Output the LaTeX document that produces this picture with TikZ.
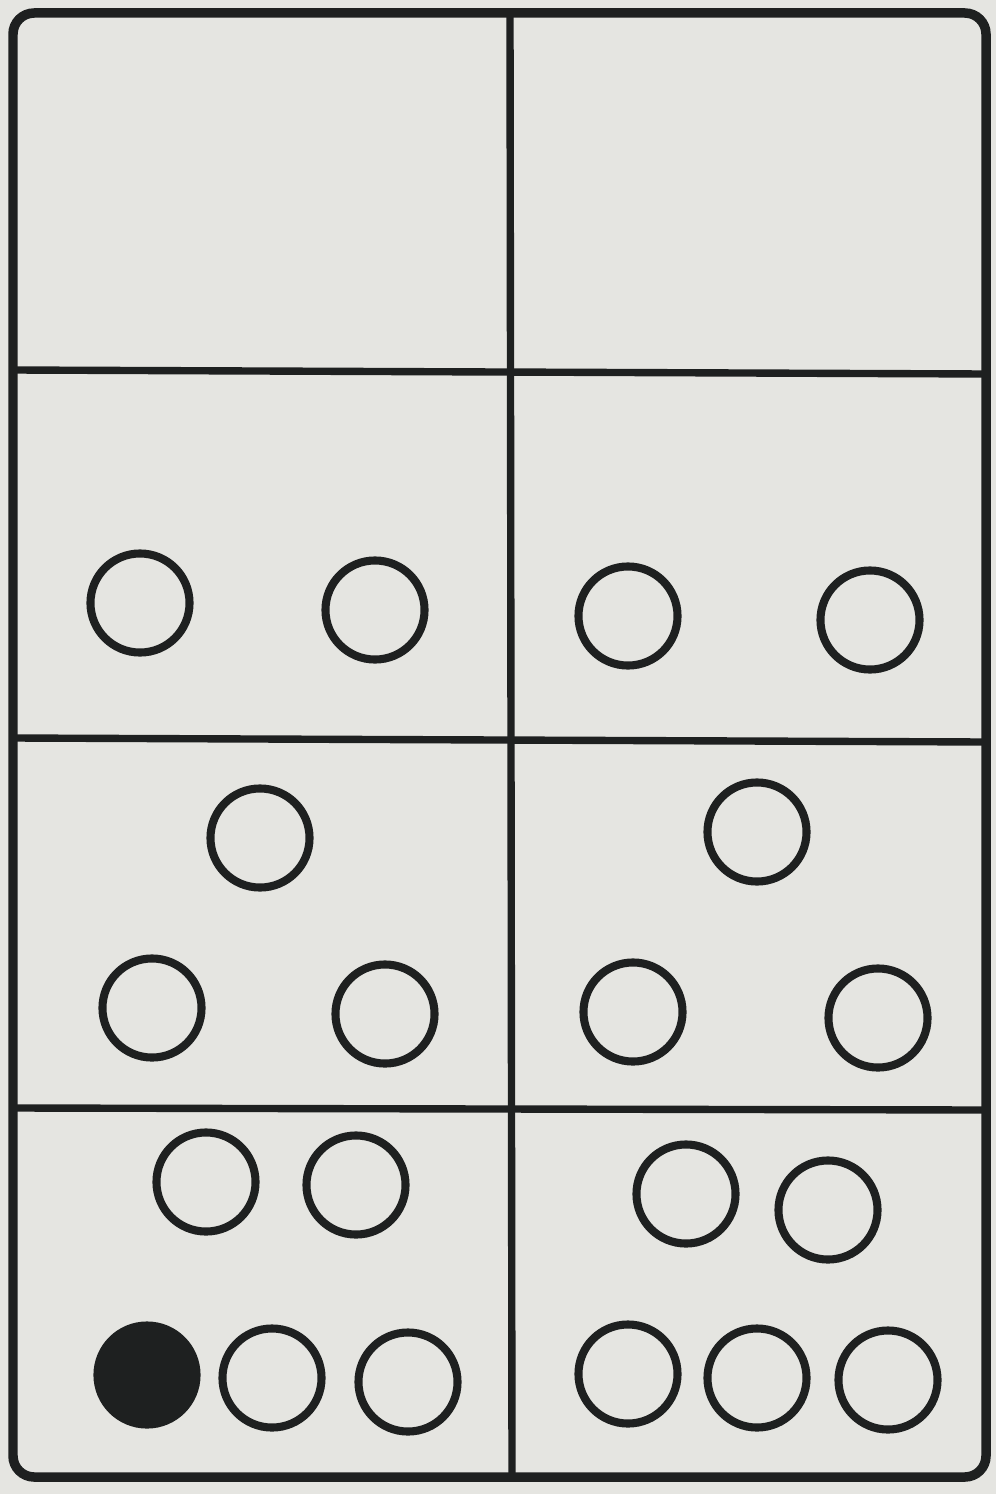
\documentclass[tikz,border=0pt]{standalone}
\usepackage{xcolor}
\usepackage{tikz}

\definecolor{card}{RGB}{229,229,225}
\definecolor{ink}{RGB}{30,32,32}

\begin{document}
\begin{tikzpicture}[x=0.01cm, y=-0.01cm,
    pip/.style={draw=ink, circle, line width=2.3pt, minimum size=0.99cm, inner sep=0pt},
    pipfull/.style={pip, fill=ink}]
            % Background
            \fill[card] (0,0) rectangle (996,1494);
            \useasboundingbox (0,0) rectangle (996,1494);

            % Outer frame
            \draw[ink, line width=2.7pt, rounded corners=6pt] (13,13) rectangle (986,1477);

            % Dividers
            \draw[ink, line width=2.1pt] (510,13) -- (512,1477);
            \draw[ink, line width=2.1pt] (13,370) -- (986,374);
            \draw[ink, line width=2.1pt] (13,738) -- (986,742);
            \draw[ink, line width=2.1pt] (13,1108) -- (986,1110);

            % Second row - two pips each
            \node[pip] (a1) at (140,603) {};
            \node[pip] (a2) at (375,610) {};
            \node[pip] (b1) at (628,616) {};
            \node[pip] (b2) at (870,620) {};

            % Third row - three pips each
            \node[pip] (c1) at (260,838) {};
            \node[pip] (c2) at (152,1008) {};
            \node[pip] (c3) at (385,1014) {};
            \node[pip] (d1) at (757,832) {};
            \node[pip] (d2) at (633,1012) {};
            \node[pip] (d3) at (878,1018) {};

            % Bottom row - five pips each
            \node[pip] (e1) at (206,1182) {};
            \node[pip] (e2) at (356,1185) {};
            \node[pipfull] (e3) at (147,1375) {};
            \node[pip] (e4) at (272,1378) {};
            \node[pip] (e5) at (408,1382) {};
            \node[pip] (f1) at (686,1194) {};
            \node[pip] (f2) at (828,1210) {};
            \node[pip] (f3) at (628,1374) {};
            \node[pip] (f4) at (757,1378) {};
            \node[pip] (f5) at (888,1380) {};
        \end{tikzpicture}
\end{document}
